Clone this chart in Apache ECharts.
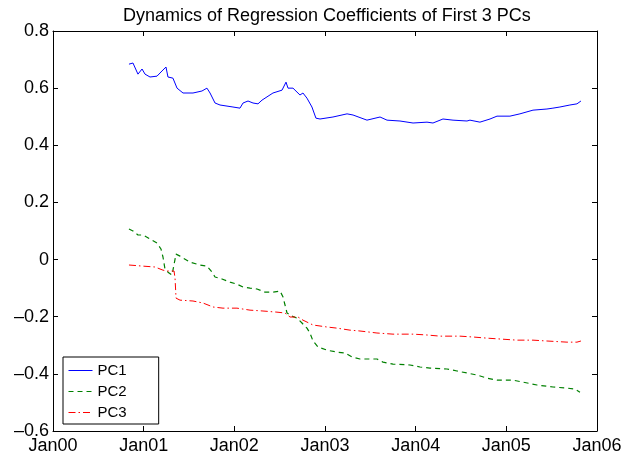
<!DOCTYPE html>
<html>
<head>
<meta charset="utf-8">
<script src="https://cdn.jsdelivr.net/npm/echarts@6/dist/echarts.min.js"></script>
<style>html,body{margin:0;padding:0;background:#fff}#c{width:635px;height:459px}</style>
</head>
<body>
<div id="c"></div>
<script>
// x values: years since Jan 2000
var xTickLabels = ['Jan00','Jan01','Jan02','Jan03','Jan04','Jan05','Jan06'];
var yTickLabels = ['–0.6','–0.4','–0.2','0','0.2','0.4','0.6','0.8'];

var pc1T = [0.838,0.882,0.904,0.937,0.982,1.015,1.070,1.147,1.202,1.246,1.268,1.323,1.368,1.434,1.544,1.643,1.698,1.732,1.787,1.842,1.985,2.062,2.096,2.151,2.206,2.261,2.305,2.426,2.526,2.570,2.592,2.647,2.724,2.757,2.801,2.856,2.900,2.945,3.088,3.243,3.309,3.463,3.607,3.684,3.827,3.971,4.125,4.191,4.301,4.412,4.566,4.599,4.709,4.820,4.897,5.040,5.150,5.294,5.448,5.514,5.591,5.701,5.779,5.790,5.823];
var pc1V = [0.684,0.688,0.691,0.649,0.667,0.649,0.639,0.642,0.660,0.674,0.639,0.635,0.600,0.583,0.583,0.590,0.600,0.583,0.548,0.541,0.534,0.530,0.548,0.555,0.548,0.545,0.558,0.583,0.593,0.621,0.600,0.600,0.576,0.583,0.565,0.534,0.495,0.492,0.499,0.510,0.506,0.488,0.499,0.488,0.485,0.478,0.481,0.478,0.492,0.488,0.485,0.488,0.481,0.492,0.502,0.502,0.510,0.523,0.527,0.530,0.534,0.541,0.545,0.538,0.555];

var pc2T = [0.838,0.882,0.937,0.993,1.092,1.147,1.191,1.213,1.235,1.268,1.312,1.323,1.357,1.401,1.511,1.621,1.698,1.754,1.787,1.864,1.952,2.029,2.096,2.173,2.250,2.338,2.426,2.504,2.537,2.559,2.581,2.636,2.691,2.746,2.801,2.834,2.868,2.923,3.022,3.132,3.220,3.298,3.386,3.573,3.640,3.750,3.937,4.048,4.158,4.345,4.456,4.566,4.676,4.787,4.897,5.073,5.184,5.338,5.515,5.669,5.757,5.812];
var pc2V = [0.107,0.100,0.086,0.086,0.068,0.058,0.037,0.009,-0.033,-0.044,-0.054,-0.037,0.019,0.012,-0.009,-0.019,-0.023,-0.044,-0.061,-0.068,-0.079,-0.086,-0.096,-0.100,-0.103,-0.114,-0.114,-0.110,-0.131,-0.159,-0.187,-0.198,-0.205,-0.222,-0.240,-0.257,-0.285,-0.306,-0.317,-0.324,-0.327,-0.341,-0.348,-0.348,-0.359,-0.366,-0.369,-0.376,-0.380,-0.383,-0.390,-0.397,-0.404,-0.415,-0.422,-0.422,-0.429,-0.439,-0.446,-0.450,-0.453,-0.464];

var pc3T = [0.838,0.993,1.125,1.213,1.257,1.335,1.346,1.357,1.401,1.544,1.654,1.765,1.875,2.029,2.173,2.316,2.470,2.559,2.614,2.702,2.757,2.868,3.022,3.132,3.276,3.386,3.573,3.750,3.971,4.125,4.268,4.489,4.632,4.787,4.930,5.117,5.294,5.448,5.669,5.779,5.823];
var pc3V = [-0.019,-0.023,-0.026,-0.037,-0.040,-0.040,-0.065,-0.135,-0.142,-0.145,-0.152,-0.166,-0.170,-0.170,-0.177,-0.180,-0.184,-0.187,-0.201,-0.201,-0.212,-0.229,-0.236,-0.240,-0.247,-0.250,-0.257,-0.261,-0.261,-0.264,-0.268,-0.268,-0.271,-0.275,-0.278,-0.282,-0.282,-0.285,-0.289,-0.289,-0.285];

function zip(a, b) { return a.map(function (v, i) { return [v, b[i]]; }); }

var FONT = "'Liberation Sans', Arial, Helvetica, sans-serif";
var chart = echarts.init(document.getElementById('c'), null, {renderer: 'canvas'});
var axisLine = {show: true, onZero: false, lineStyle: {color: '#000', width: 1}};
var axisTick = {show: true, inside: true, length: 5, lineStyle: {color: '#000', width: 1}};
chart.setOption({
  animation: false,
  backgroundColor: '#fff',
  title: {
    text: 'Dynamics of Regression Coefficients of First 3 PCs',
    left: 118,
    top: 2,
    textStyle: {fontFamily: FONT, fontSize: 18, fontWeight: 'normal', color: '#000'}
  },
  grid: {left: 53, right: 38, top: 31, bottom: 28, containLabel: false},
  legend: {
    orient: 'vertical',
    left: 63, top: 357,
    padding: [6, 32, 4, 5],
    itemGap: 6,
    itemWidth: 24, itemHeight: 14,
    borderColor: '#000', borderWidth: 1, borderRadius: 0,
    backgroundColor: '#fff',
    itemStyle: {opacity: 0, borderWidth: 0},
    lineStyle: {width: 1},
    textStyle: {fontFamily: FONT, fontSize: 15, color: '#000'},
    data: ['PC1', 'PC2', 'PC3']
  },
  xAxis: [{
    type: 'value', min: 0, max: 6, interval: 1,
    axisLine: axisLine, axisTick: axisTick, splitLine: {show: false},
    axisLabel: {fontFamily: FONT, fontSize: 18, color: '#000', margin: 6,
      formatter: function (v) { return xTickLabels[Math.round(v)]; }}
  }, {
    type: 'value', min: 0, max: 6, interval: 1, position: 'top',
    axisLine: axisLine, axisTick: axisTick, splitLine: {show: false}, axisLabel: {show: false}
  }],
  yAxis: [{
    type: 'value', min: -0.6, max: 0.8, interval: 0.2,
    axisLine: axisLine, axisTick: axisTick, splitLine: {show: false},
    axisLabel: {fontFamily: FONT, fontSize: 18, color: '#000', margin: 4,
      formatter: function (v) { return yTickLabels[Math.round((v + 0.6) / 0.2)]; }}
  }, {
    type: 'value', min: -0.6, max: 0.8, interval: 0.2, position: 'right',
    axisLine: axisLine, axisTick: axisTick, splitLine: {show: false}, axisLabel: {show: false}
  }],
  series: [{
    name: 'PC1', type: 'line', showSymbol: false, symbol: 'none',
    data: zip(pc1T, pc1V),
    lineStyle: {color: '#0000ff', width: 1}, itemStyle: {color: '#0000ff'}
  }, {
    name: 'PC2', type: 'line', showSymbol: false, symbol: 'none',
    data: zip(pc2T, pc2V),
    lineStyle: {color: '#008000', width: 1.2, type: [5, 4]}, itemStyle: {color: '#008000'}
  }, {
    name: 'PC3', type: 'line', showSymbol: false, symbol: 'none',
    data: zip(pc3T, pc3V),
    lineStyle: {color: '#ff0000', width: 1, type: [7, 3, 1.5, 3]}, itemStyle: {color: '#ff0000'}
  }]
});
</script>
</body>
</html>
